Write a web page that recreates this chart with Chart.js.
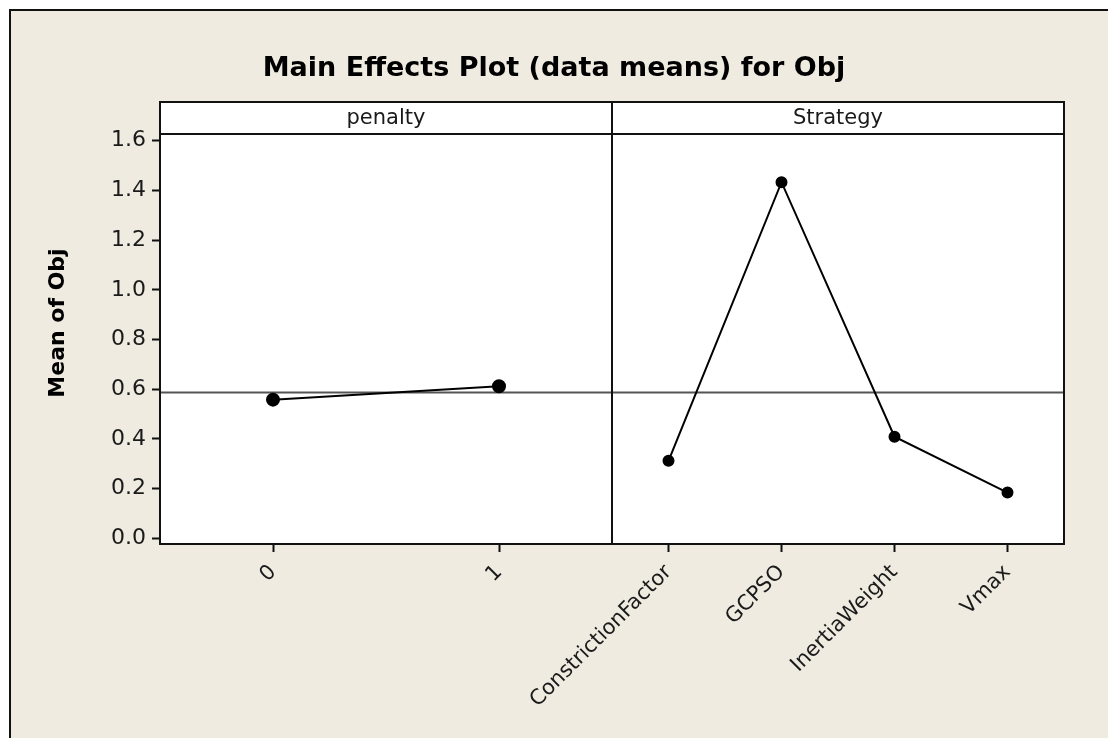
<!DOCTYPE html>
<html>
<head>
<meta charset="utf-8">
<script src="https://cdn.jsdelivr.net/npm/chart.js@4.4.1/dist/chart.umd.min.js"></script>
<style>
  html, body { margin: 0; padding: 0; background: #fff; }
  canvas { display: block; }
</style>
</head>
<body>
<canvas id="main-chart" width="1108" height="738"></canvas>
<script>
const chartTitle = 'Main Effects Plot (data means) for Obj';
const yTitle = 'Mean of Obj';
const factorNames = ['penalty', 'Strategy'];

const penaltyLevels = ['0', '1'];
const penaltyMeans = [0.558, 0.612];

const strategyLevels = ['ConstrictionFactor', 'GCPSO', 'InertiaWeight', 'Vmax'];
const strategyMeans = [0.312, 1.433, 0.409, 0.184];

const grandMean = 0.587;
const yTicks = [0.0, 0.2, 0.4, 0.6, 0.8, 1.0, 1.2, 1.4, 1.6];

const BEIGE = '#efebe1';
const INK = '#1a1a1a';
const FONT = '"DejaVu Sans", Verdana, sans-serif';
const PANEL_SPAN = 4;   // each factor panel takes 4 units of the shared x scale
const STRIP_HEIGHT = 32;

// centre of each level inside its panel
function levelPositions(levels, panelIndex) {
  const step = PANEL_SPAN / levels.length;
  return levels.map((_, i) => panelIndex * PANEL_SPAN + (i + 0.5) * step);
}

const penaltyX = levelPositions(penaltyLevels, 0);
const strategyX = levelPositions(strategyLevels, 1);
const allPositions = [...penaltyX, ...strategyX];
const allLabels = [...penaltyLevels, ...strategyLevels];

const framePlugin = {
  id: 'minitabFrame',
  beforeDraw(chart) {
    const { ctx, width, height, chartArea } = chart;
    ctx.save();
    ctx.fillStyle = '#fff';
    ctx.fillRect(0, 0, width, height);
    ctx.fillStyle = BEIGE;
    ctx.fillRect(10, 10, width - 10, height - 10);

    ctx.strokeStyle = '#111';
    ctx.lineWidth = 2;
    ctx.beginPath();
    ctx.moveTo(10, height);
    ctx.lineTo(10, 10);
    ctx.lineTo(width, 10);
    ctx.stroke();

    ctx.fillStyle = '#fff';
    ctx.fillRect(chartArea.left, chartArea.top - STRIP_HEIGHT, chartArea.width, chartArea.height + STRIP_HEIGHT);
    ctx.restore();
  },
  afterDraw(chart) {
    const { ctx, width, chartArea, scales } = chart;
    const { left, right, top, bottom } = chartArea;
    const stripTop = top - STRIP_HEIGHT;
    const divider = scales.x.getPixelForValue(PANEL_SPAN);

    ctx.save();
    ctx.strokeStyle = '#111';
    ctx.lineWidth = 2;
    ctx.strokeRect(left, stripTop, right - left, bottom - stripTop);
    ctx.beginPath();
    ctx.moveTo(left, top);
    ctx.lineTo(right, top);
    ctx.moveTo(divider, stripTop);
    ctx.lineTo(divider, bottom);
    ctx.stroke();

    // strip labels
    ctx.fillStyle = INK;
    ctx.font = '21px ' + FONT;
    ctx.textAlign = 'center';
    ctx.textBaseline = 'middle';
    factorNames.forEach((name, i) => {
      const x0 = scales.x.getPixelForValue(i * PANEL_SPAN);
      const x1 = scales.x.getPixelForValue((i + 1) * PANEL_SPAN);
      ctx.fillText(name, (x0 + x1) / 2, stripTop + STRIP_HEIGHT / 2 + 1);
    });

    // main title
    ctx.fillStyle = '#000';
    ctx.font = 'bold 27px ' + FONT;
    ctx.textBaseline = 'alphabetic';
    ctx.fillText(chartTitle, width / 2, 76);

    // y axis title
    ctx.translate(58, (stripTop + bottom) / 2);
    ctx.rotate(-Math.PI / 2);
    ctx.font = 'bold 22px ' + FONT;
    ctx.textBaseline = 'middle';
    ctx.fillText(yTitle, 0, 0);
    ctx.restore();
  }
};

const tickGrid = {
  drawOnChartArea: false,
  drawTicks: true,
  tickLength: 8,
  tickWidth: 2,
  tickColor: '#111'
};

new Chart(document.getElementById('main-chart'), {
  type: 'line',
  data: {
    datasets: [
      {
        label: factorNames[0],
        data: penaltyMeans.map((v, i) => ({ x: penaltyX[i], y: v })),
        borderColor: '#000',
        borderWidth: 2,
        pointRadius: 6,
        pointBackgroundColor: '#000',
        pointBorderColor: '#000',
        tension: 0
      },
      {
        label: factorNames[1],
        data: strategyMeans.map((v, i) => ({ x: strategyX[i], y: v })),
        borderColor: '#000',
        borderWidth: 2,
        pointRadius: 5,
        pointBackgroundColor: '#000',
        pointBorderColor: '#000',
        tension: 0
      },
      {
        label: 'mean',
        data: [{ x: 0, y: grandMean }, { x: PANEL_SPAN * 2, y: grandMean }],
        borderColor: '#555',
        borderWidth: 2,
        pointRadius: 0
      }
    ]
  },
  options: {
    responsive: false,
    devicePixelRatio: 1,
    animation: false,
    layout: { padding: { top: 134, right: 44, left: 0, bottom: 0 } },
    plugins: {
      legend: { display: false },
      tooltip: { enabled: false }
    },
    scales: {
      x: {
        type: 'linear',
        min: 0,
        max: PANEL_SPAN * 2,
        afterBuildTicks: (axis) => { axis.ticks = allPositions.map((v) => ({ value: v })); },
        afterFit: (scale) => { scale.height = 194; },
        ticks: {
          autoSkip: false,
          minRotation: 45,
          maxRotation: 45,
          padding: 8,
          color: INK,
          font: { family: FONT, size: 21 },
          callback: (val, i) => allLabels[i]
        },
        grid: tickGrid,
        border: { display: false }
      },
      y: {
        min: -0.023,
        max: 1.627,
        afterBuildTicks: (axis) => { axis.ticks = yTicks.map((v) => ({ value: v })); },
        afterFit: (scale) => { scale.width = 160; },
        ticks: {
          padding: 6,
          color: INK,
          font: { family: FONT, size: 22 },
          callback: (val) => Number(val).toFixed(1)
        },
        grid: tickGrid,
        border: { display: false }
      }
    }
  },
  plugins: [framePlugin]
});
</script>
</body>
</html>
